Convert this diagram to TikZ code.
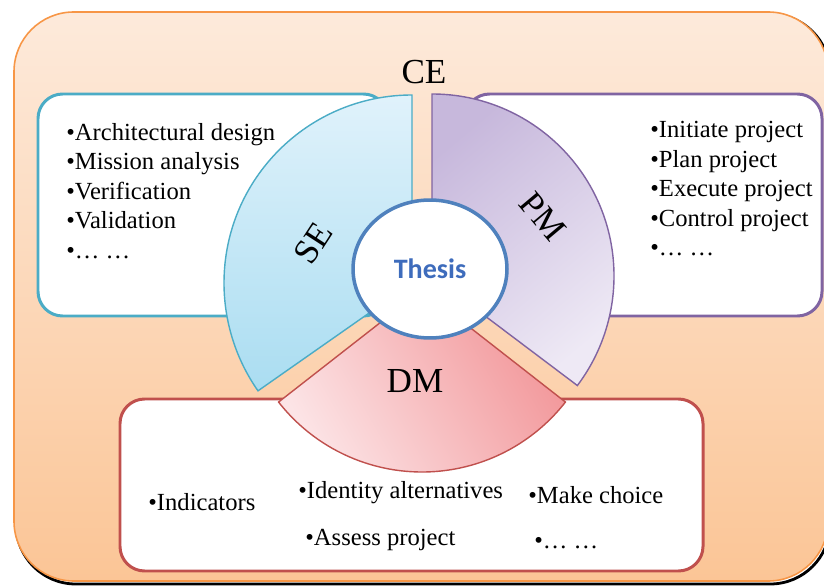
\documentclass[tikz,border=0pt]{standalone}
\usepackage{fontspec}
\setmainfont{Liberation Serif}
\newfontfamily\thesisfont{Carlito}
\usetikzlibrary{shapes.geometric}
\definecolor{seline}{RGB}{75,172,198}
\definecolor{pmline}{RGB}{128,100,162}
\definecolor{dmline}{RGB}{192,80,77}
\definecolor{thline}{RGB}{79,129,189}
\definecolor{celine}{RGB}{247,150,70}
\definecolor{setop}{RGB}{224,242,251}
\definecolor{sebot}{RGB}{170,221,241}
\definecolor{pmtop}{RGB}{199,184,220}
\definecolor{pmbot}{RGB}{238,233,245}
\definecolor{dmtop}{RGB}{242,150,153}
\definecolor{dmbot}{RGB}{252,228,230}
\definecolor{cetop}{RGB}{253,234,219}
\definecolor{cebot}{RGB}{251,197,150}
\definecolor{thtext}{RGB}{62,108,188}
\tikzstyle{listbox} = [rounded corners=14pt, line width=1.7pt, fill=white]
\tikzstyle{wedge} = [line width=0.8pt]
\tikzstyle{sectlabel} = [inner sep=0pt, font=\fontsize{20}{24}\selectfont]
\tikzstyle{items} = [anchor=north west, inner sep=0pt, align=left, font=\fontsize{14}{16.8}\selectfont]
\tikzstyle{listitem} = [anchor=base west, inner sep=0pt, font=\fontsize{14}{16.8}\selectfont]

\begin{document}
\begin{tikzpicture}[x=0.02cm, y=-0.02cm]
\useasboundingbox (0,0) rectangle (824,587);
\draw[black, line width=1.6pt, rounded corners=34pt] (16,14) rectangle (830,584);
\draw[celine, line width=0.9pt, rounded corners=34pt, top color=cetop, bottom color=cebot] (14,12) rectangle (828,581);
\draw[listbox, draw=seline] (38,94) rectangle (388,316);
\draw[listbox, draw=pmline] (465,94) rectangle (822,316);
\draw[listbox, draw=dmline] (120,399) rectangle (703,571);
\coordinate (sec) at (412,283);
\coordinate (pmc) at (432,276);
\coordinate (dmc) at (422,290);
\draw[wedge, draw=seline, top color=setop, bottom color=sebot] (sec) -- ++(-90:188) arc[start angle=-90, end angle=-215, radius=188] -- cycle;
\draw[wedge, draw=pmline, top color=pmtop, bottom color=pmbot, shading angle=40] (pmc) -- ++(-90:182) arc[start angle=-90, end angle=37, radius=182] -- cycle;
\draw[wedge, draw=dmline, top color=dmtop, bottom color=dmbot, shading angle=-60] (dmc) -- ++(142:182) arc[start angle=142, end angle=38, radius=182] -- cycle;
\node (thesis) [ellipse, draw=thline, line width=2pt, fill=white, minimum width=3.08cm, minimum height=2.76cm, text=thtext, font=\thesisfont\bfseries\fontsize{16}{19}\selectfont] at (430,269) {Thesis};
\node (ce) [sectlabel] at (424,72) {CE};
\node (se) [sectlabel, rotate=57] at (313,243) {SE};
\node (pm) [sectlabel, rotate=-50] at (543,217) {PM};
\node (dm) [sectlabel] at (415,381) {DM};
\node (selist) [items] at (66,123) {•Architectural design\\•Mission analysis\\•Verification\\•Validation\\•… …};
\node (pmlist) [items] at (650,121) {•Initiate project\\•Plan project\\•Execute project\\•Control project\\•… …};
\node (indic) [listitem] at (148,510) {•Indicators};
\node (ident) [listitem] at (298,498) {•Identity alternatives};
\node (choice) [listitem] at (528,503) {•Make choice};
\node (assess) [listitem] at (305,545) {•Assess project};
\node (dmmore) [listitem] at (534,548) {•… …};
\end{tikzpicture}
\end{document}
